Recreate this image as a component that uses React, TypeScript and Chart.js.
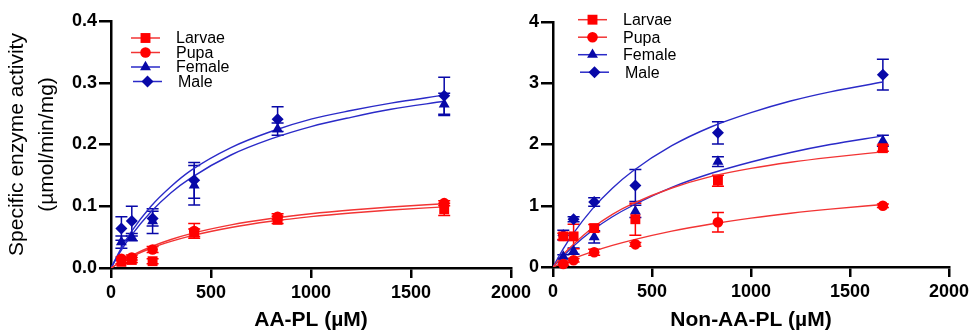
import React, { useEffect, useRef } from "react";
import { Chart, registerables } from "chart.js";

Chart.register(...registerables);

// ---------- data ----------
const seriesNames = ["Larvae", "Pupa", "Female", "Male"];
const concentrations = [52, 104, 208, 416, 833, 1666];
const fitX = [0, 50, 100, 200, 300, 400, 600, 800, 1000, 1200, 1400, 1666];
const xTickValues = [0, 500, 1000, 1500, 2000];
const xTickLabels = ["0", "500", "1000", "1500", "2000"];
const aaYTickValues = [0, 0.1, 0.2, 0.3, 0.4];
const aaYTickLabels = ["0.0", "0.1", "0.2", "0.3", "0.4"];
const nonYTickValues = [0, 1, 2, 3, 4];
const nonYTickLabels = ["0", "1", "2", "3", "4"];

// AA-PL panel
const aaLarvae = [0.010, 0.013, 0.011, 0.057, 0.078, 0.095];
const aaLarvaeErr = [0.003, 0.004, 0.004, 0.006, 0.006, 0.010];
const aaPupa = [0.015, 0.017, 0.030, 0.060, 0.083, 0.105];
const aaPupaErr = [0.003, 0.004, 0.005, 0.012, 0.005, 0.004];
const aaFemale = [0.042, 0.050, 0.076, 0.134, 0.225, 0.265];
const aaFemaleErr = [0.010, 0.006, 0.020, 0.032, 0.010, 0.018];
const aaMale = [0.064, 0.076, 0.080, 0.142, 0.241, 0.279];
const aaMaleErr = [0.019, 0.024, 0.012, 0.029, 0.020, 0.030];
const aaLarvaeFit = [0, 0.0097, 0.0181, 0.032, 0.043, 0.052, 0.0656, 0.0756, 0.0832, 0.0891, 0.0939, 0.099];
const aaPupaFit = [0, 0.0105, 0.0196, 0.0344, 0.0461, 0.0556, 0.0698, 0.0801, 0.0879, 0.094, 0.0989, 0.104];
const aaFemaleFit = [0, 0.028, 0.052, 0.091, 0.122, 0.146, 0.183, 0.209, 0.229, 0.244, 0.257, 0.27];
const aaMaleFit = [0, 0.0315, 0.058, 0.1, 0.132, 0.158, 0.195, 0.221, 0.241, 0.255, 0.267, 0.28];

// Non-AA-PL panel
const nonLarvae = [0.50, 0.50, 0.635, 0.78, 1.41, 1.94];
const nonLarvaeErr = [0.05, 0.2, 0.06, 0.26, 0.09, 0.05];
const nonPupa = [0.05, 0.11, 0.24, 0.37, 0.73, 1.0];
const nonPupaErr = [0.02, 0.03, 0.05, 0.03, 0.16, 0.03];
const nonFemale = [0.17, 0.26, 0.49, 0.91, 1.72, 2.06];
const nonFemaleErr = [0.03, 0.05, 0.1, 0.1, 0.08, 0.09];
const nonMale = [0.52, 0.78, 1.06, 1.33, 2.19, 3.14];
const nonMaleErr = [0.08, 0.04, 0.07, 0.26, 0.18, 0.25];
const nonLarvaeFit = [0, 0.2, 0.36, 0.64, 0.86, 1.03, 1.29, 1.48, 1.61, 1.71, 1.79, 1.88];
const nonPupaFit = [0, 0.0705, 0.135, 0.251, 0.352, 0.439, 0.586, 0.702, 0.798, 0.878, 0.945, 1.02];
const nonFemaleFit = [0, 0.17, 0.33, 0.6, 0.82, 1.0, 1.3, 1.53, 1.715, 1.87, 2.0, 2.14];
const nonMaleFit = [0, 0.286, 0.536, 0.953, 1.287, 1.56, 1.98, 2.29, 2.52, 2.71, 2.86, 3.02];

// ---------- styles ----------
const FONT = "'Liberation Sans', Arial, sans-serif";
const RED = "#FF0000";
const RED_LINE = "#F23434";
const BLUE = "#0808A8";
const BLUE_LINE = "#2A2AC8";
const styles = [
  { color: RED, line: RED_LINE, point: "rect", r: 7 },
  { color: RED, line: RED_LINE, point: "circle", r: 5.3 },
  { color: BLUE, line: BLUE_LINE, point: "triangle", r: 6.3 },
  { color: BLUE, line: BLUE_LINE, point: "rectRot", r: 6 },
];

type Panel = {
  means: number[][];
  errs: number[][];
  fits: number[][];
  yTicks: number[];
  yLabels: string[];
  yMax: number;
  xTitle: string;
  yTitle: string[] | null;
  width: number;
  yWidth: number;
  padTop: number;
  padRight: number;
  xHeight: number;
  legend: { dx: number; dy: number; gap: number };
};

function drawMarker(ctx: CanvasRenderingContext2D, style: string, x: number, y: number, r: number) {
  ctx.beginPath();
  if (style === "rect") {
    const s = r * Math.SQRT1_2;
    ctx.rect(x - s, y - s, 2 * s, 2 * s);
  } else if (style === "circle") {
    ctx.arc(x, y, r, 0, Math.PI * 2);
  } else if (style === "triangle") {
    ctx.moveTo(x, y - r);
    ctx.lineTo(x + r * 0.866, y + r / 2);
    ctx.lineTo(x - r * 0.866, y + r / 2);
    ctx.closePath();
  } else {
    ctx.moveTo(x, y - r);
    ctx.lineTo(x + r, y);
    ctx.lineTo(x, y + r);
    ctx.lineTo(x - r, y);
    ctx.closePath();
  }
  ctx.fill();
}

function buildConfig(p: Panel): any {
  const pointSets = p.means.map((m, si) => ({
    type: "scatter",
    label: seriesNames[si],
    data: concentrations.map((c, i) => ({ x: c, y: m[i] })),
    pointStyle: styles[si].point,
    pointRadius: styles[si].r,
    backgroundColor: styles[si].color,
    borderColor: styles[si].color,
    borderWidth: 0,
    showLine: false,
    clip: false,
  }));
  const fitSets = p.fits.map((f, si) => ({
    type: "line",
    label: seriesNames[si] + " fit",
    data: fitX.map((x, i) => ({ x, y: f[i] })),
    borderColor: styles[si].line,
    borderWidth: 1.4,
    pointRadius: 0,
    fill: false,
    cubicInterpolationMode: "monotone",
  }));

  const errorBars = {
    id: "errorBars",
    beforeDatasetsDraw(chart: any) {
      const { ctx, scales } = chart;
      const xs = scales.x;
      const ys = scales.y;
      ctx.save();
      ctx.lineWidth = 1.5;
      for (let si = p.means.length - 1; si >= 0; si--) {
        ctx.strokeStyle = styles[si].color;
        concentrations.forEach((c, i) => {
          const px = xs.getPixelForValue(c);
          const top = ys.getPixelForValue(p.means[si][i] + p.errs[si][i]);
          const bot = ys.getPixelForValue(Math.max(0, p.means[si][i] - p.errs[si][i]));
          ctx.beginPath();
          ctx.moveTo(px, top);
          ctx.lineTo(px, bot);
          ctx.moveTo(px - 6, top);
          ctx.lineTo(px + 6, top);
          ctx.moveTo(px - 6, bot);
          ctx.lineTo(px + 6, bot);
          ctx.stroke();
        });
      }
      ctx.restore();
    },
  };

  const legendPlugin = {
    id: "customLegend",
    afterDraw(chart: any) {
      const { ctx, chartArea } = chart;
      ctx.save();
      ctx.font = `16px ${FONT}`;
      ctx.textBaseline = "middle";
      ctx.textAlign = "left";
      seriesNames.forEach((name, si) => {
        const shift = si === 3 ? 2 : 0;
        const x0 = chartArea.left + p.legend.dx + shift;
        const y = chartArea.top + p.legend.dy + si * p.legend.gap;
        ctx.strokeStyle = styles[si].line;
        ctx.lineWidth = 1.5;
        ctx.beginPath();
        ctx.moveTo(x0, y);
        ctx.lineTo(x0 + 29, y);
        ctx.stroke();
        ctx.fillStyle = styles[si].color;
        drawMarker(ctx, styles[si].point, x0 + 14.5, y, styles[si].r);
        ctx.fillStyle = "#000";
        ctx.fillText(name, x0 + 45, y + 1);
      });
      ctx.restore();
    },
  };

  return {
    type: "scatter",
    data: { datasets: [...pointSets, ...fitSets] },
    plugins: [errorBars, legendPlugin],
    options: {
      animation: false,
      responsive: false,
      devicePixelRatio: 1,
      layout: { padding: { left: 0, top: p.padTop, right: p.padRight, bottom: 0 } },
      plugins: { legend: { display: false }, tooltip: { enabled: false } },
      scales: {
        x: {
          type: "linear",
          min: 0,
          max: 2000,
          afterBuildTicks: (s: any) => {
            s.ticks = xTickValues.map((v) => ({ value: v }));
          },
          afterFit: (s: any) => {
            s.height = p.xHeight;
          },
          ticks: {
            callback: (_v: any, i: number) => xTickLabels[i],
            font: { family: FONT, size: 18, weight: "bold" },
            color: "#000",
            padding: 4,
            maxRotation: 0,
            autoSkip: false,
          },
          grid: {
            drawOnChartArea: false,
            drawTicks: true,
            tickLength: 10,
            tickWidth: 2.5,
            lineWidth: 2.5,
            tickColor: "#000",
            color: "#000",
          },
          border: { display: true, color: "#000", width: 2.5 },
          title: {
            display: true,
            text: p.xTitle,
            color: "#000",
            font: { family: FONT, size: 21, weight: "bold", lineHeight: 1 },
            padding: 0,
          },
        },
        y: {
          type: "linear",
          min: 0,
          max: p.yMax,
          afterBuildTicks: (s: any) => {
            s.ticks = p.yTicks.map((v) => ({ value: v }));
          },
          afterFit: (s: any) => {
            s.width = p.yWidth;
          },
          ticks: {
            callback: (_v: any, i: number) => p.yLabels[i],
            font: { family: FONT, size: 18, weight: "bold" },
            color: "#000",
            padding: 2,
          },
          grid: {
            drawOnChartArea: false,
            drawTicks: true,
            tickLength: 12,
            tickWidth: 2.5,
            lineWidth: 2.5,
            tickColor: "#000",
            color: "#000",
          },
          border: { display: true, color: "#000", width: 2.5 },
          title: {
            display: !!p.yTitle,
            text: p.yTitle || "",
            color: "#000",
            font: { family: FONT, size: 21, weight: "normal", lineHeight: 1.4 },
            padding: { top: 3, bottom: 0 },
          },
        },
      },
    },
  };
}

const leftPanel: Panel = {
  means: [aaLarvae, aaPupa, aaFemale, aaMale],
  errs: [aaLarvaeErr, aaPupaErr, aaFemaleErr, aaMaleErr],
  fits: [aaLarvaeFit, aaPupaFit, aaFemaleFit, aaMaleFit],
  yTicks: aaYTickValues,
  yLabels: aaYTickLabels,
  yMax: 0.4,
  xTitle: "AA-PL (µM)",
  yTitle: ["Specific enzyme activity", "(µmol/min/mg)"],
  width: 540,
  yWidth: 111,
  padTop: 21,
  padRight: 29,
  xHeight: 63,
  legend: { dx: 20, dy: 17, gap: 14.5 },
};

const rightPanel: Panel = {
  means: [nonLarvae, nonPupa, nonFemale, nonMale],
  errs: [nonLarvaeErr, nonPupaErr, nonFemaleErr, nonMaleErr],
  fits: [nonLarvaeFit, nonPupaFit, nonFemaleFit, nonMaleFit],
  yTicks: nonYTickValues,
  yLabels: nonYTickLabels,
  yMax: 4,
  xTitle: "Non-AA-PL (µM)",
  yTitle: null,
  width: 459,
  yWidth: 38,
  padTop: 22,
  padRight: 25,
  xHeight: 64,
  legend: { dx: 25, dy: -2.3, gap: 17.5 },
};

function ChartPanel({ panel, left }: { panel: Panel; left: number }) {
  const ref = useRef<HTMLCanvasElement | null>(null);
  useEffect(() => {
    if (!ref.current) return;
    const chart = new Chart(ref.current, buildConfig(panel));
    return () => chart.destroy();
  }, [panel]);
  return (
    <div style={{ position: "absolute", left, top: 0, width: panel.width, height: 331 }}>
      <canvas ref={ref} width={panel.width} height={331} style={{ display: "block" }} />
    </div>
  );
}

export default function App() {
  return (
    <div
      style={{
        position: "fixed",
        left: 0,
        top: 0,
        width: 974,
        height: 331,
        background: "#fff",
        overflow: "hidden",
      }}
    >
      <ChartPanel panel={leftPanel} left={0} />
      <ChartPanel panel={rightPanel} left={515} />
    </div>
  );
}
